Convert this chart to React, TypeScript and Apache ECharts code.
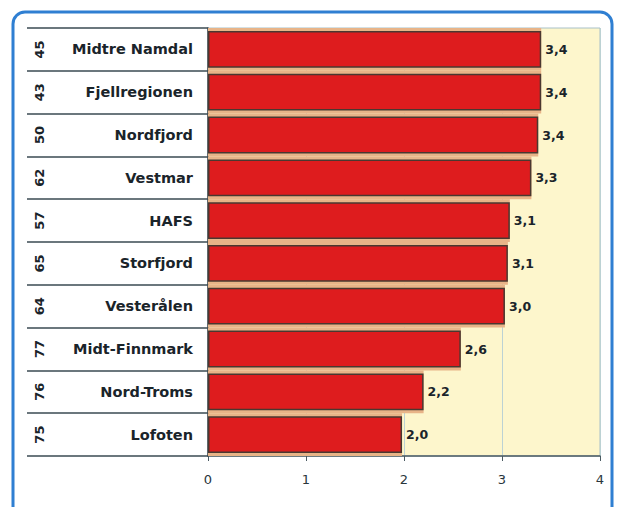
import React, { useEffect, useRef } from "react";
import * as echarts from "echarts";

const regions = [
  "Midtre Namdal",
  "Fjellregionen",
  "Nordfjord",
  "Vestmar",
  "HAFS",
  "Storfjord",
  "Vesterålen",
  "Midt-Finnmark",
  "Nord-Troms",
  "Lofoten",
];
const codes = ["45", "43", "50", "62", "57", "65", "64", "77", "76", "75"];
const values = [3.4, 3.4, 3.37, 3.3, 3.08, 3.06, 3.03, 2.58, 2.2, 1.98];
const xTicks = [0, 1, 2, 3, 4];

export default function App() {
  const ref = useRef<HTMLDivElement>(null);
  useEffect(() => {
    if (!ref.current) return;
    const chart = echarts.init(ref.current, undefined, { renderer: "svg" });
    const font = "'DejaVu Sans', Verdana, sans-serif";
    chart.setOption({
      animation: false,
      backgroundColor: "#ffffff",
      graphic: [
        {
          type: "rect",
          shape: { x: 13, y: 12, width: 599, height: 510, r: 12 },
          style: { fill: "none", stroke: "#2f7fd2", lineWidth: 3 },
          z: 100,
        },
      ],
      grid: {
        left: 208,
        right: 22,
        top: 28,
        bottom: 51,
        show: true,
        backgroundColor: "#fdf6cc",
        borderColor: "#a8c0c8",
        borderWidth: 1,
      },
      xAxis: {
        type: "value",
        min: 0,
        max: 4,
        interval: 1,
        axisLine: { show: true, lineStyle: { color: "#4a5a62", width: 1.5 } },
        axisTick: { show: true, length: 5, lineStyle: { color: "#4a5a62" } },
        splitLine: { show: true, lineStyle: { color: "#bcd2d4", width: 1 } },
        axisLabel: {
          color: "#2a363c",
          fontFamily: font,
          fontSize: 13,
          margin: 17,
          formatter: (v: number) => (xTicks.includes(v) ? String(v) : ""),
        },
      },
      yAxis: [
        {
          type: "category",
          data: regions,
          inverse: true,
          axisLine: { show: true, lineStyle: { color: "#3a4046", width: 1.5 } },
          axisTick: {
            show: true,
            length: 181,
            lineStyle: { color: "#3a4a52", width: 1.5 },
          },
          axisLabel: {
            color: "#1a242a",
            fontFamily: font,
            fontWeight: "bold",
            fontSize: 14.5,
            margin: 15,
          },
        },
        {
          type: "category",
          data: codes,
          inverse: true,
          position: "left",
          offset: 150,
          axisLine: { show: false },
          axisTick: { show: false },
          axisLabel: {
            rotate: 90,
            color: "#1a242a",
            fontFamily: font,
            fontWeight: "bold",
            fontSize: 13,
            margin: 12,
          },
        },
      ],
      series: [
        {
          type: "bar",
          yAxisIndex: 1,
          data: values,
          barWidth: "100%",
          itemStyle: { color: "#e8b488" },
          silent: true,
        },
        {
          type: "bar",
          yAxisIndex: 0,
          data: values,
          barWidth: "86%",
          itemStyle: { color: "#de1c1e", borderColor: "#4a3830", borderWidth: 1.5 },
          label: {
            show: true,
            position: "right",
            distance: 4,
            color: "#1a242a",
            fontFamily: font,
            fontWeight: "bold",
            fontSize: 12.5,
            formatter: (p: any) => p.value.toFixed(1).replace(".", ","),
          },
        },
      ],
    });
    return () => chart.dispose();
  }, []);
  return (
    <div
      ref={ref}
      style={{ position: "fixed", left: 0, top: 0, width: 622, height: 507 }}
    />
  );
}
